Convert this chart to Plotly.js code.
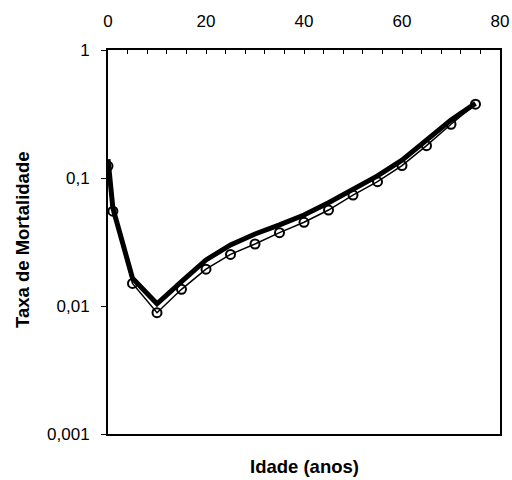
<!DOCTYPE html>
<html>
<head>
<meta charset="utf-8">
<script src="https://cdn.plot.ly/plotly-3.0.1.min.js"></script>
<style>html,body{margin:0;padding:0;background:#fff;}#chart{width:512px;height:480px;}</style>
</head>
<body>
<div id="chart"></div>
<script>
const ages = [0, 1, 5, 10, 15, 20, 25, 30, 35, 40, 45, 50, 55, 60, 65, 70, 75];
const rateThick = [0.14, 0.058, 0.0165, 0.0104, 0.0155, 0.0229, 0.030, 0.0365, 0.043, 0.0514, 0.064, 0.0816, 0.104, 0.138, 0.198, 0.284, 0.383];
const rateCircles = [0.124, 0.055, 0.0150, 0.00887, 0.0135, 0.0194, 0.0253, 0.0305, 0.0374, 0.0451, 0.0562, 0.0736, 0.0936, 0.125, 0.179, 0.263, 0.377];
const xTickVals = [0, 20, 40, 60, 80];
const yTickVals = [0.001, 0.01, 0.1, 1];
const yTickText = ['0,001', '0,01', '0,1', '1'];
const xTitle = 'Idade (anos)';
const yTitle = 'Taxa de Mortalidade';

const font = 'Liberation Sans, Arial, sans-serif';

const traces = [
  {x: ages, y: rateThick, mode: 'lines', line: {color: '#000', width: 5}, hoverinfo: 'skip'},
  {x: ages, y: rateCircles, mode: 'lines+markers', line: {color: '#000', width: 1.5},
   marker: {symbol: 'circle-open', size: 9, color: '#000', line: {color: '#000', width: 2}}, hoverinfo: 'skip'}
];

const layout = {
  width: 512, height: 480,
  margin: {l: 108, r: 12, t: 50, b: 46},
  paper_bgcolor: '#fff', plot_bgcolor: '#fff',
  showlegend: false,
  font: {family: font, color: '#000', size: 17},
  xaxis: {
    side: 'top', range: [0, 80], tickvals: xTickVals, ticktext: xTickVals.map(String),
    ticks: 'inside', ticklen: 4, tickwidth: 1, tickcolor: '#000',
    minor: {dtick: 4, tick0: 0, ticks: 'inside', ticklen: 4, tickwidth: 1, tickcolor: '#000', showgrid: false},
    showline: true, linecolor: '#000', linewidth: 2, mirror: true,
    showgrid: false, zeroline: false, fixedrange: true,
    ticklabelstandoff: 14,
    tickfont: {family: font, size: 17, color: '#000'}
  },
  yaxis: {
    type: 'log', range: [-3, 0], tickvals: yTickVals, ticktext: yTickText,
    ticks: 'outside', ticklen: 5, tickwidth: 1, tickcolor: '#000',
    showline: true, linecolor: '#000', linewidth: 2, mirror: true,
    showgrid: false, zeroline: false, fixedrange: true,
    ticklabelstandoff: 8,
    tickfont: {family: font, size: 17, color: '#000'}
  },
  annotations: [
    {text: '<b>' + xTitle + '</b>', xref: 'paper', yref: 'paper', x: (304 - 108) / 392, y: -(466 - 434) / 384,
     xanchor: 'center', yanchor: 'middle', showarrow: false, font: {family: font, size: 18.5, color: '#000'}},
    {text: '<b>' + yTitle + '</b>', xref: 'paper', yref: 'paper', x: (22 - 108) / 392, y: (434 - 240) / 384,
     xanchor: 'center', yanchor: 'middle', textangle: -90, showarrow: false, font: {family: font, size: 18.5, color: '#000'}}
  ]
};

Plotly.newPlot('chart', traces, layout, {staticPlot: true, displayModeBar: false});
</script>
</body>
</html>
